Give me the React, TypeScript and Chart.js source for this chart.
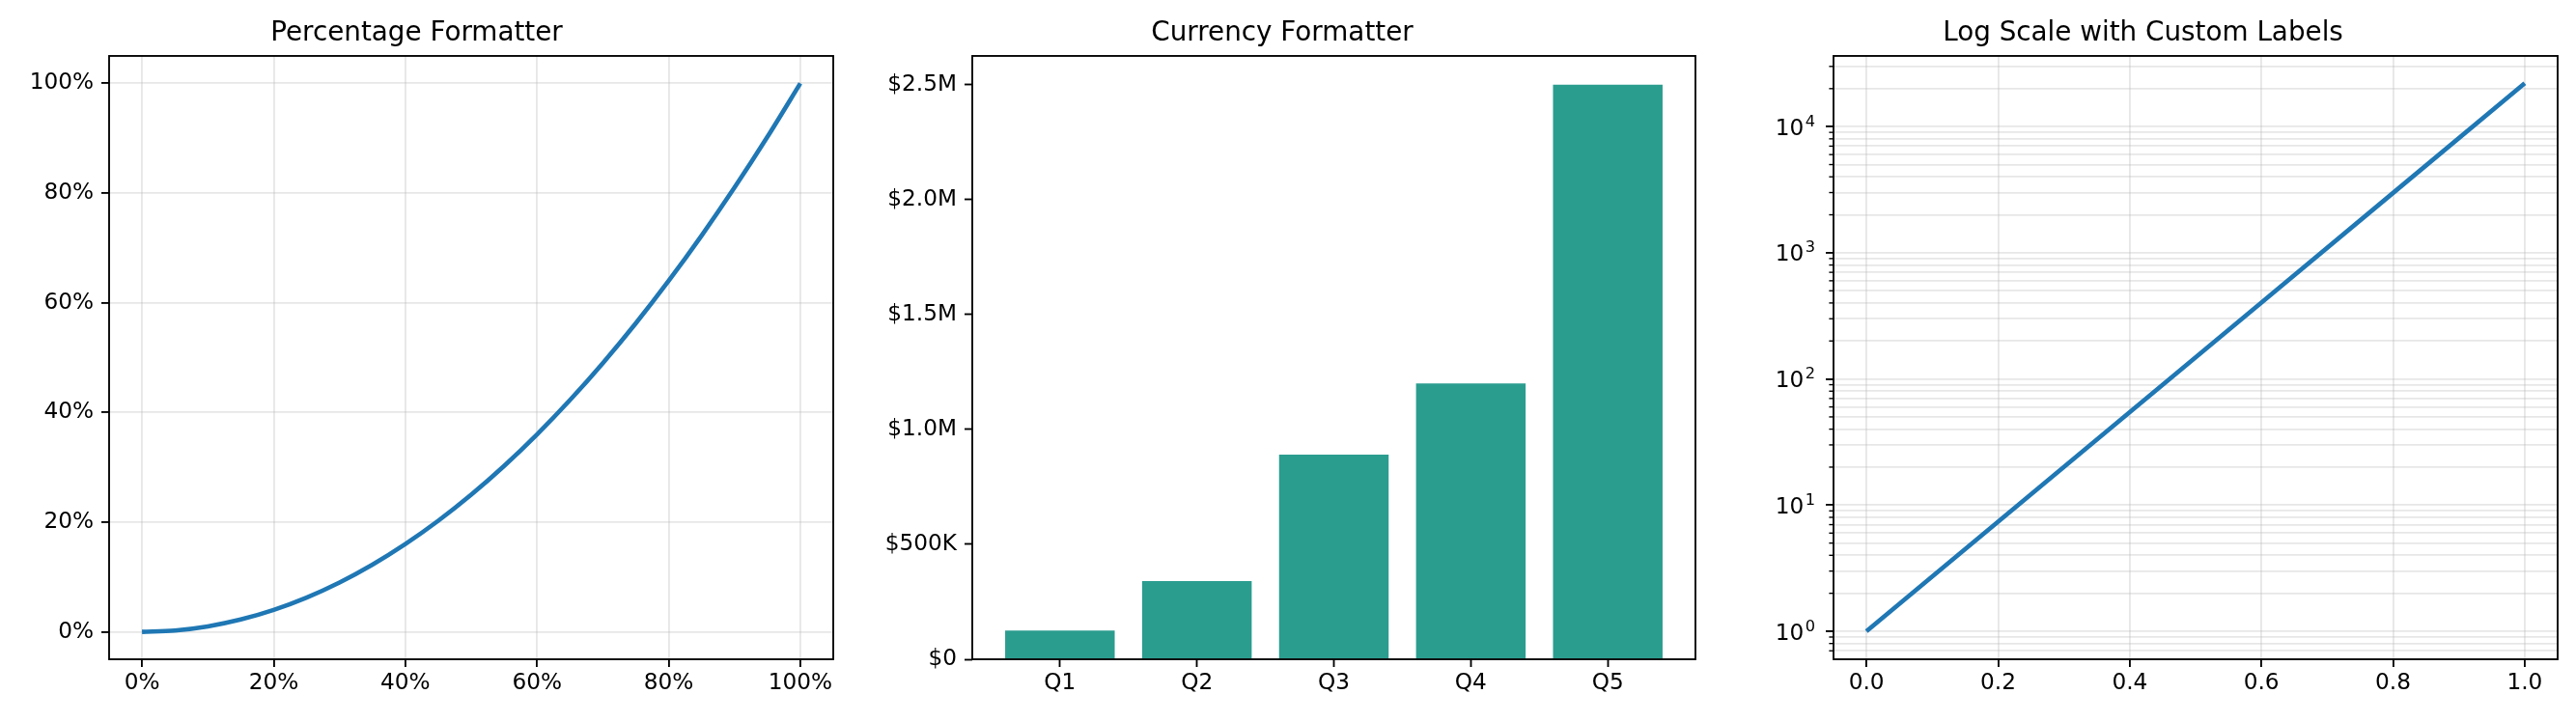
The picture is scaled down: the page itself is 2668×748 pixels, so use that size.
import React, { useEffect, useRef } from "react";
import { Chart, registerables } from "chart.js";

Chart.register(...registerables);

// ---------- data ----------
const pctX = [0, 0.05, 0.1, 0.15, 0.2, 0.25, 0.3, 0.35, 0.4, 0.45, 0.5, 0.55, 0.6, 0.65, 0.7, 0.75, 0.8, 0.85, 0.9, 0.95, 1.0];
const pctY = [0, 0.0025, 0.01, 0.0225, 0.04, 0.0625, 0.09, 0.1225, 0.16, 0.2025, 0.25, 0.3025, 0.36, 0.4225, 0.49, 0.5625, 0.64, 0.7225, 0.81, 0.9025, 1.0];
const pctTicks = [0, 0.2, 0.4, 0.6, 0.8, 1.0];

const quarters = ["Q1", "Q2", "Q3", "Q4", "Q5"];
const revenue = [125000, 340000, 890000, 1200000, 2500000];
const currencyTicks = [0, 500000, 1000000, 1500000, 2000000, 2500000];

const logX = [0, 0.2, 0.4, 0.6, 0.8, 1.0];
const logY = [1, 7.39, 54.6, 403.4, 2981, 22026];
const logXTicks = [0, 0.2, 0.4, 0.6, 0.8, 1.0];
const logDecades = [-1, 0, 1, 2, 3, 4];

const titles = ["Percentage Formatter", "Currency Formatter", "Log Scale with Custom Labels"];

// ---------- style ----------
const FONT = "'DejaVu Sans', sans-serif";
const TICK_SIZE = 23.2;
const SUP_SIZE = 16.2;
const TITLE_SIZE = 27.8;
const SPINE = 1.85;
const GRID = "rgba(176,176,176,0.3)";
const LINE_COLOR = "#1f77b4";
const BAR_COLOR = "#2a9d8f";

const framePlugin = {
  id: "frame",
  afterDraw(chart: any) {
    const { ctx, chartArea: a } = chart;
    ctx.save();
    ctx.strokeStyle = "#000";
    ctx.lineWidth = SPINE;
    ctx.strokeRect(a.left, a.top, a.right - a.left, a.bottom - a.top);
    ctx.restore();
  },
};

const isDecade = (v: number) => {
  const l = Math.log10(v);
  return Math.abs(l - Math.round(l)) < 1e-9;
};

// minor tick marks + "10^n" labels with a real superscript exponent
const logAxisPlugin = {
  id: "logAxis",
  afterDraw(chart: any) {
    const s = chart.scales.y;
    const ctx = chart.ctx;
    const left = chart.chartArea.left;
    ctx.save();
    ctx.strokeStyle = "#000";
    ctx.fillStyle = "#000";
    ctx.lineWidth = 1.39;
    s.ticks.forEach((t: any) => {
      const y = s.getPixelForValue(t.value);
      if (!isDecade(t.value)) {
        ctx.beginPath();
        ctx.moveTo(left - 4.6, y);
        ctx.lineTo(left, y);
        ctx.stroke();
      } else {
        const exp = String(Math.round(Math.log10(t.value)));
        const xr = left - 19;
        const base = y + 8.5;
        ctx.textAlign = "right";
        ctx.textBaseline = "alphabetic";
        ctx.font = `${SUP_SIZE}px ${FONT}`;
        ctx.fillText(exp, xr, base - 9);
        const w = ctx.measureText(exp).width;
        ctx.font = `${TICK_SIZE}px ${FONT}`;
        ctx.fillText("10", xr - w - 1.5, base);
      }
    });
    ctx.restore();
  },
};

const tickFont = { family: FONT, size: TICK_SIZE };

function titleOpts(text: string) {
  return {
    display: true,
    text,
    color: "#000",
    font: { family: FONT, size: TITLE_SIZE, weight: "normal" as const },
    padding: { top: 17.8, bottom: 6.8 },
  };
}

function axisBase(extra: any) {
  return {
    border: { display: false },
    ...extra,
  };
}

function setTicks(values: number[]) {
  return (scale: any) => {
    scale.ticks = values.map((v) => ({ value: v }));
  };
}

function commonPlugins(title: string) {
  return {
    legend: { display: false },
    tooltip: { enabled: false },
    title: titleOpts(title),
  };
}

function cfgPercent(): any {
  return {
    type: "line",
    data: {
      datasets: [
        {
          data: pctX.map((x, i) => ({ x, y: pctY[i] })),
          borderColor: LINE_COLOR,
          borderWidth: 4.6,
          pointRadius: 0,
          cubicInterpolationMode: "monotone",
          fill: false,
        },
      ],
    },
    options: {
      animation: false,
      responsive: false,
      devicePixelRatio: 1,
      layout: { padding: { left: 0, right: 37, top: 0, bottom: 0 } },
      plugins: commonPlugins(titles[0]),
      scales: {
        x: axisBase({
          type: "linear",
          min: -0.05,
          max: 1.05,
          afterBuildTicks: setTicks(pctTicks),
          afterFit: (s: any) => { s.height = 65; },
          grid: { color: GRID, lineWidth: SPINE, tickColor: "#000", tickWidth: SPINE, tickLength: 8 },
          ticks: {
            autoSkip: false, maxRotation: 0, padding: 3, color: "#000", font: tickFont,
            callback: (v: any) => `${Math.round(Number(v) * 100)}%`,
          },
        }),
        y: axisBase({
          type: "linear",
          min: -0.05,
          max: 1.05,
          afterBuildTicks: setTicks(pctTicks),
          afterFit: (s: any) => { s.width = 113; },
          grid: { color: GRID, lineWidth: SPINE, tickColor: "#000", tickWidth: SPINE, tickLength: 8 },
          ticks: {
            autoSkip: false, padding: 8, color: "#000", font: tickFont,
            callback: (v: any) => `${Math.round(Number(v) * 100)}%`,
          },
        }),
      },
    },
    plugins: [framePlugin],
  };
}

const fmtCurrency = (v: number) => {
  if (v >= 1e6) return `$${(v / 1e6).toFixed(1)}M`;
  if (v >= 1e3) return `$${(v / 1e3).toFixed(0)}K`;
  return `$${v.toFixed(0)}`;
};

function cfgCurrency(): any {
  return {
    type: "bar",
    data: {
      datasets: [
        {
          data: revenue.map((v, i) => ({ x: i, y: v })),
          backgroundColor: BAR_COLOR,
          borderWidth: 0,
          categoryPercentage: 1,
          barPercentage: 0.8,
        },
      ],
    },
    options: {
      animation: false,
      responsive: false,
      devicePixelRatio: 1,
      layout: { padding: { left: 0, right: 34, top: 0, bottom: 0 } },
      plugins: commonPlugins(titles[1]),
      scales: {
        x: axisBase({
          type: "linear",
          offset: false,
          min: -0.64,
          max: 4.64,
          afterBuildTicks: setTicks(quarters.map((_, i) => i)),
          afterFit: (s: any) => { s.height = 65; },
          grid: { offset: false, drawOnChartArea: false, tickColor: "#000", tickWidth: SPINE, tickLength: 8 },
          ticks: {
            autoSkip: false, maxRotation: 0, padding: 3, color: "#000", font: tickFont,
            callback: (v: any) => quarters[Math.round(Number(v))] ?? "",
          },
        }),
        y: axisBase({
          type: "linear",
          min: 0,
          max: 2625000,
          afterBuildTicks: setTicks(currencyTicks),
          afterFit: (s: any) => { s.width = 107; },
          grid: { drawOnChartArea: false, tickColor: "#000", tickWidth: SPINE, tickLength: 8 },
          ticks: {
            autoSkip: false, padding: 8, color: "#000", font: tickFont,
            callback: (v: any) => fmtCurrency(Number(v)),
          },
        }),
      },
    },
    plugins: [framePlugin],
  };
}

function cfgLog(): any {
  const yMin = 0.6065;
  const yMax = 36316;
  const logTickValues: number[] = [];
  logDecades.forEach((d) => {
    for (let m = 1; m <= 9; m++) {
      const v = m * Math.pow(10, d);
      if (v >= yMin && v <= yMax) logTickValues.push(v);
    }
  });
  return {
    type: "line",
    data: {
      datasets: [
        {
          data: logX.map((x, i) => ({ x, y: logY[i] })),
          borderColor: LINE_COLOR,
          borderWidth: 4.6,
          pointRadius: 0,
          fill: false,
        },
      ],
    },
    options: {
      animation: false,
      responsive: false,
      devicePixelRatio: 1,
      layout: { padding: { left: 0, right: 19, top: 0, bottom: 0 } },
      plugins: commonPlugins(titles[2]),
      scales: {
        x: axisBase({
          type: "linear",
          min: -0.05,
          max: 1.05,
          afterBuildTicks: setTicks(logXTicks),
          afterFit: (s: any) => { s.height = 65; },
          grid: { color: GRID, lineWidth: SPINE, tickColor: "#000", tickWidth: SPINE, tickLength: 8 },
          ticks: {
            autoSkip: false, maxRotation: 0, padding: 3, color: "#000", font: tickFont,
            callback: (v: any) => Number(v).toFixed(1),
          },
        }),
        y: axisBase({
          type: "logarithmic",
          min: yMin,
          max: yMax,
          afterBuildTicks: (scale: any) => {
            scale.ticks = logTickValues.map((v) => ({ value: v, major: isDecade(v) }));
          },
          afterFit: (s: any) => { s.width = 109; },
          grid: {
            color: GRID,
            lineWidth: SPINE,
            tickColor: (c: any) => (c.tick && isDecade(c.tick.value) ? "#000" : "rgba(0,0,0,0)"),
            tickWidth: SPINE,
            tickLength: 8,
          },
          ticks: {
            autoSkip: false, padding: 8, color: "#000", font: tickFont,
            major: { enabled: false },
            callback: () => "",
          },
        }),
      },
    },
    plugins: [framePlugin, logAxisPlugin],
  };
}

export default function App() {
  const r1 = useRef<HTMLCanvasElement>(null);
  const r2 = useRef<HTMLCanvasElement>(null);
  const r3 = useRef<HTMLCanvasElement>(null);

  useEffect(() => {
    const charts = [
      new Chart(r1.current!, cfgPercent()),
      new Chart(r2.current!, cfgCurrency()),
      new Chart(r3.current!, cfgLog()),
    ];
    return () => charts.forEach((c) => c.destroy());
  }, []);

  const cs = (left: number, width: number): React.CSSProperties => ({
    position: "absolute",
    left,
    top: 0,
    width,
    height: 748,
  });

  return (
    <div style={{ position: "absolute", left: 0, top: 0, width: 2668, height: 748, background: "#fff" }}>
      <canvas ref={r1} width={900} height={748} style={cs(0, 900)} />
      <canvas ref={r2} width={890} height={748} style={cs(900, 890)} />
      <canvas ref={r3} width={878} height={748} style={cs(1790, 878)} />
    </div>
  );
}
